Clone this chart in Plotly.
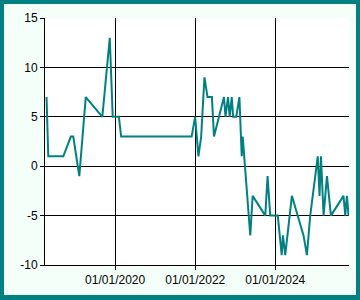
import plotly.graph_objects as go

dates = [
    "2018-04-15", "2018-05-01", "2018-09-15", "2018-11-23", "2018-12-15",
    "2019-02-08", "2019-04-08", "2019-09-06", "2019-11-13", "2019-12-10",
    "2020-02-04", "2020-02-25", "2021-11-29", "2021-12-31", "2022-01-30",
    "2022-02-24", "2022-03-26", "2022-04-23", "2022-06-02", "2022-06-21",
    "2022-09-20", "2022-10-04", "2022-10-27", "2022-11-11", "2022-11-30",
    "2022-12-13", "2023-01-10", "2023-02-08", "2023-03-01", "2023-03-10",
    "2023-05-18", "2023-06-09", "2023-10-02", "2023-10-23", "2023-11-16",
    "2024-01-24", "2024-02-29", "2024-03-11", "2024-04-01", "2024-06-01",
    "2024-09-15", "2024-10-16", "2024-11-15", "2025-01-23", "2025-02-08",
    "2025-02-21", "2025-03-17", "2025-04-17", "2025-05-23", "2025-09-15",
    "2025-10-01", "2025-10-16", "2025-10-31",
]
values = [
    7, 1, 1, 3, 3,
    -1, 7, 5, 13, 5,
    5, 3, 3, 5, 1,
    3, 9, 7, 7, 3,
    7, 5, 7, 5, 7,
    5, 5, 7, 1, 3,
    -7, -3, -5, -1, -5,
    -5, -9, -7, -9, -3,
    -7, -9, -5, 1, -3,
    1, -5, -1, -5, -3,
    -5, -3, -5,
]
y_tick_vals = [-10, -5, 0, 5, 10, 15]
y_tick_text = ["-10", "-5", "0", "5", "10", "15"]
x_range = ["2018-04-01", "2025-11-04"]

TEAL = "#008080"

fig = go.Figure()
fig.add_trace(go.Scatter(
    x=dates, y=values, mode="lines",
    line=dict(color=TEAL, width=2),
    showlegend=False, hoverinfo="skip",
))

W, H = 360, 300
L, R, T, B = 45, 11, 18, 35
pw, ph = W - L - R, H - T - B

def px(x):
    return (x - L) / pw

def py(y):
    return (H - B - y) / ph

borders = [(0, 0, 360, 4), (0, 0, 4, 300), (356, 0, 360, 300), (0, 295, 360, 300)]
shapes = []
for x0, y0, x1, y1 in borders:
    shapes.append(dict(type="rect", xref="paper", yref="paper",
                       x0=px(x0), x1=px(x1), y0=py(y1), y1=py(y0),
                       fillcolor=TEAL, line=dict(width=0), layer="above"))

fig.update_layout(
    width=W, height=H,
    margin=dict(l=L, r=R, t=T, b=B, pad=0),
    paper_bgcolor="#F5FFFA",
    plot_bgcolor="#FFFFFF",
    font=dict(family="Liberation Sans, Arial, sans-serif", size=12, color="#000000"),
    shapes=shapes,
    xaxis=dict(
        type="date", range=x_range,
        tick0="2020-01-01", dtick="M24", tickformat="%m/%d/%Y",
        showgrid=True, gridcolor="#000000", gridwidth=1,
        showline=True, linecolor="#000000", linewidth=1,
        ticks="outside", ticklen=4, tickcolor="#000000",
        zeroline=False, fixedrange=True,
    ),
    yaxis=dict(
        range=[-10, 15], tickmode="array",
        tickvals=y_tick_vals, ticktext=y_tick_text,
        showgrid=True, gridcolor="#000000", gridwidth=1,
        showline=True, linecolor="#000000", linewidth=1,
        ticks="outside", ticklen=4, tickcolor="#000000",
        zeroline=False, fixedrange=True,
    ),
)

fig.write_html("out.html", config={"displayModeBar": False})
